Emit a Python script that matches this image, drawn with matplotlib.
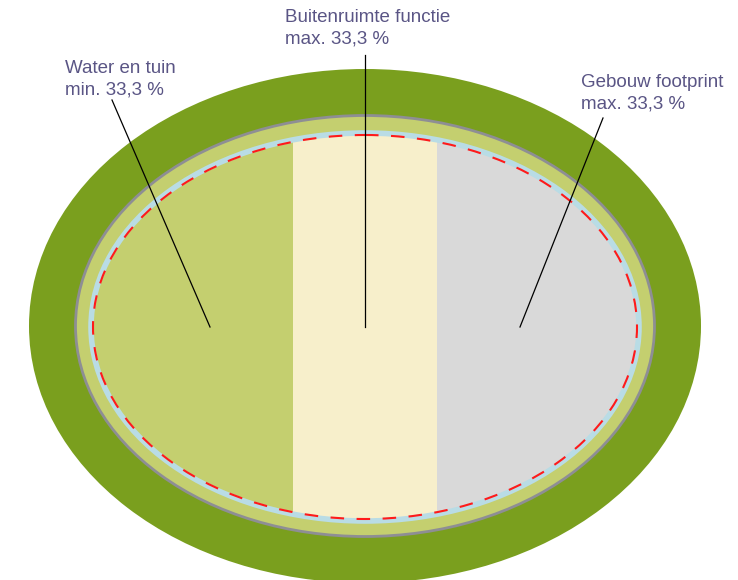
import matplotlib.pyplot as plt
from matplotlib.patches import Ellipse, Rectangle

# data
categorieen = ["Water en tuin", "Buitenruimte functie", "Gebouw footprint"]
grens = ["min.", "max.", "max."]
percentages = [33.3, 33.3, 33.3]
kleuren = ["#c4cf6f", "#f7efcb", "#d9d9d9"]

# layout (pixels)
cx, cy = 365, 326
band_randen = [80, 293, 437, 650]
tekst_pos = [(65, 60), (285, 9), (581, 74)]
lijn_start = [(112, 100), (365, 55), (603, 118)]
lijn_eind = [(210, 327), (365, 327), (520, 327)]

fig = plt.figure(figsize=(7.38, 5.80), dpi=100)
ax = fig.add_axes([0, 0, 1, 1])
ax.set_xlim(0, 738)
ax.set_ylim(580, 0)
ax.set_aspect('equal')
ax.axis('off')

# buitenste groene ring
ax.add_patch(Ellipse((cx, cy), 672, 514, facecolor="#7a9f1e", edgecolor='none'))
# lichtgroene ring met grijze rand
ax.add_patch(Ellipse((cx, cy), 579, 421, facecolor="#c4cf6f", edgecolor="#8e8e94", linewidth=2))

# binnenste ellips met drie banden
binnen = Ellipse((cx, cy + 1), 548, 388, facecolor='none', edgecolor='none')
ax.add_patch(binnen)
for i in range(len(categorieen)):
    r = Rectangle((band_randen[i], 100), band_randen[i + 1] - band_randen[i], 460,
                  facecolor=kleuren[i], edgecolor='none')
    ax.add_patch(r)
    r.set_clip_path(binnen)

# lichtblauwe lijn en rode stippellijn
ax.add_patch(Ellipse((cx, cy + 1), 548, 388, facecolor='none', edgecolor="#b9dce5", linewidth=4))
ax.add_patch(Ellipse((cx, cy + 1), 544, 384, facecolor='none', edgecolor="#ff1a1a",
                     linewidth=1.5, linestyle=(0, (6.5, 6))))

# labels en lijnen
for i in range(len(categorieen)):
    tekst = f"{categorieen[i]}\n{grens[i]} " + f"{percentages[i]:.1f}".replace('.', ',') + " %"
    ax.text(tekst_pos[i][0], tekst_pos[i][1], tekst, fontsize=13.5, color="#5a5585",
            family=["Liberation Sans", "DejaVu Sans"], va='top', ha='left',
            linespacing=1.35)
    ax.plot([lijn_start[i][0], lijn_eind[i][0]], [lijn_start[i][1], lijn_eind[i][1]],
            color='black', linewidth=0.9)

fig.savefig("out.png", dpi=100)
